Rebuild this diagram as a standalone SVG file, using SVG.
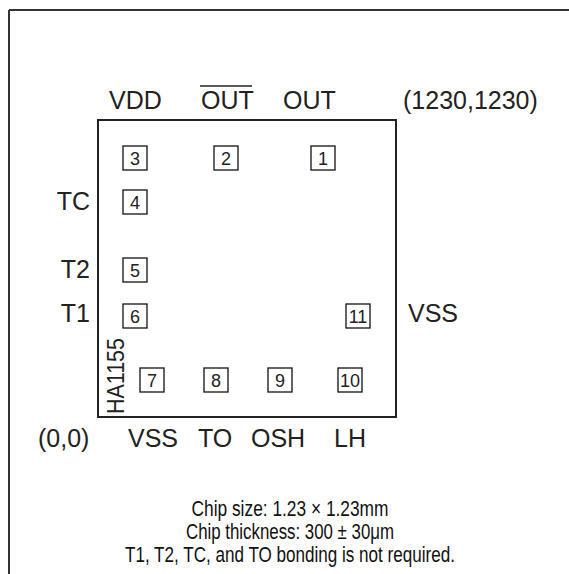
<svg xmlns="http://www.w3.org/2000/svg" width="569" height="574" viewBox="0 0 569 574">
<style>
.lbl{font-family:"Liberation Sans",Arial,sans-serif;font-size:25px;fill:#222}
.num{font-family:"Liberation Sans",Arial,sans-serif;font-size:18px;fill:#222;text-anchor:middle}
.pad{fill:#fff;stroke:#111;stroke-width:1.3}
.note{font-family:"Liberation Sans",Arial,sans-serif;font-size:22px;fill:#111;text-anchor:middle}
</style>
<rect width="569" height="574" fill="#fff"/>
<g id="frame" stroke="#333" stroke-width="2" fill="none">
<line x1="9" y1="10" x2="569" y2="10"/>
<line x1="9" y1="10" x2="9" y2="574"/>
</g>
<g id="chip">
<rect x="98" y="120" width="298" height="297" fill="none" stroke="#222" stroke-width="2"/>
<text class="lbl" style="font-size:23px" transform="translate(124,414) rotate(-90)" textLength="76" lengthAdjust="spacingAndGlyphs">HA1155</text>
</g>
<g id="pad1"><rect class="pad" x="311" y="146" width="24" height="24"/><text class="num" x="323" y="164.5">1</text></g>
<g id="pad2"><rect class="pad" x="214" y="146" width="24" height="24"/><text class="num" x="226" y="164.5">2</text></g>
<g id="pad3"><rect class="pad" x="123" y="146" width="24" height="24"/><text class="num" x="135" y="164.5">3</text></g>
<g id="pad4"><rect class="pad" x="123" y="190" width="24" height="24"/><text class="num" x="135" y="208.5">4</text></g>
<g id="pad5"><rect class="pad" x="123" y="258" width="24" height="24"/><text class="num" x="135" y="276.5">5</text></g>
<g id="pad6"><rect class="pad" x="123" y="304" width="24" height="24"/><text class="num" x="135" y="322.5">6</text></g>
<g id="pad7"><rect class="pad" x="140" y="368" width="24" height="24"/><text class="num" x="152" y="386.5">7</text></g>
<g id="pad8"><rect class="pad" x="204" y="368" width="24" height="24"/><text class="num" x="216" y="386.5">8</text></g>
<g id="pad9"><rect class="pad" x="268" y="368" width="24" height="24"/><text class="num" x="280" y="386.5">9</text></g>
<g id="pad10"><rect class="pad" x="338" y="368" width="24" height="24"/><text class="num" x="350" y="386.5">10</text></g>
<g id="pad11"><rect class="pad" x="346" y="304" width="24" height="24"/><text class="num" x="358" y="322.5">11</text></g>
<g id="labels">
<text class="lbl" x="109" y="109">VDD</text>
<text class="lbl" x="201" y="109">OUT</text>
<line x1="200" y1="86" x2="252" y2="86" stroke="#222" stroke-width="1.5"/>
<text class="lbl" x="283" y="109">OUT</text>
<text class="lbl" x="403" y="109">(1230,1230)</text>
<text class="lbl" x="90" y="210" text-anchor="end">TC</text>
<text class="lbl" x="90" y="278" text-anchor="end">T2</text>
<text class="lbl" x="90" y="322" text-anchor="end">T1</text>
<text class="lbl" x="408" y="322">VSS</text>
<text class="lbl" x="38" y="447">(0,0)</text>
<text class="lbl" x="128" y="447">VSS</text>
<text class="lbl" x="198" y="447">TO</text>
<text class="lbl" x="251" y="447">OSH</text>
<text class="lbl" x="334" y="447">LH</text>
</g>
<g id="notes">
<text class="note" x="290" y="516" textLength="197" lengthAdjust="spacingAndGlyphs">Chip size: 1.23 × 1.23mm</text>
<text class="note" x="290" y="539" textLength="208" lengthAdjust="spacingAndGlyphs">Chip thickness: 300 ± 30μm</text>
<text class="note" x="290" y="562" textLength="330" lengthAdjust="spacingAndGlyphs">T1, T2, TC, and TO bonding is not required.</text>
</g>
</svg>
